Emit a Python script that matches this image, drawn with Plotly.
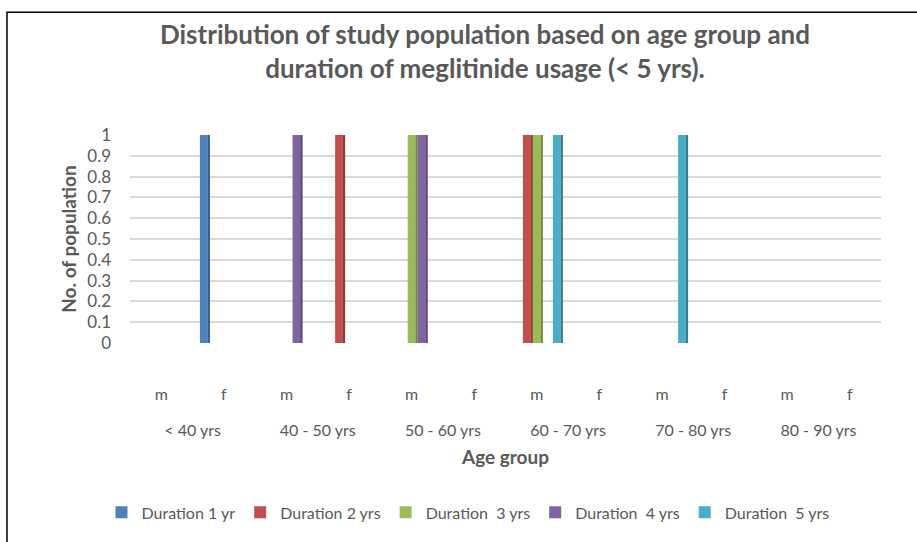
import plotly.graph_objects as go

# ---------------- data ----------------
age_groups = ["< 40 yrs", "40 - 50 yrs", "50 - 60 yrs", "60 - 70 yrs", "70 - 80 yrs", "80 - 90 yrs"]
sexes = ["m", "f"]
category_labels = [s for _ in age_groups for s in sexes]  # 12 categories

series_names = ["Duration 1 yr", "Duration 2 yrs", "Duration\u00a0 3 yrs",
                "Duration\u00a0 4 yrs", "Duration\u00a0 5 yrs"]
dur_1 = [0, 1, 0, 0, 0, 0, 0, 0, 0, 0, 0, 0]
dur_2 = [0, 0, 0, 1, 0, 0, 1, 0, 0, 0, 0, 0]
dur_3 = [0, 0, 0, 0, 1, 0, 1, 0, 0, 0, 0, 0]
dur_4 = [0, 0, 1, 0, 1, 0, 0, 0, 0, 0, 0, 0]
dur_5 = [0, 0, 0, 0, 0, 0, 1, 0, 1, 0, 0, 0]
series_values = [dur_1, dur_2, dur_3, dur_4, dur_5]

y_ticks = [0, 0.1, 0.2, 0.3, 0.4, 0.5, 0.6, 0.7, 0.8, 0.9, 1]

# ---------------- style ----------------
face_colors = ["#4F81BD", "#C0504D", "#9BBB59", "#8064A2", "#4BACC6"]
side_colors = ["#385D8A", "#8C3836", "#71893F", "#5C4776", "#357D91"]
FONT = "Lato, Carlito, 'Open Sans', sans-serif"
TXT = "#595959"

W, H = 917, 542
ML, MR, MT, MB = 130, 36, 135, 197
plot_w = W - ML - MR
plot_h = H - MT - MB

x_pos = list(range(len(category_labels)))
slot = 0.16          # spacing of series within a category (category units)
face_w = 0.125
side_w = 0.04

fig = go.Figure()
for i, (name, vals) in enumerate(zip(series_names, series_values)):
    off = (i - 2) * slot - face_w / 2
    # darker side face (3D look)
    fig.add_trace(go.Bar(
        x=x_pos, y=vals, offset=off + face_w - 0.005, width=side_w,
        marker=dict(color=side_colors[i], line=dict(width=0)),
        showlegend=False, hoverinfo="skip"))
    fig.add_trace(go.Bar(
        x=x_pos, y=vals, name=name, offset=off, width=face_w,
        marker=dict(color=face_colors[i], line=dict(width=0))))

# helper trace for the age-group axis
group_centers = [2 * k + 0.5 for k in range(len(age_groups))]
fig.add_trace(go.Scatter(x=group_centers, y=[None] * len(group_centers),
                         xaxis="x2", showlegend=False, hoverinfo="skip",
                         mode="markers"))

def px_to_paper_x(px):
    return (px - ML) / plot_w

def px_to_paper_y(py):
    return (H - MB - py) / plot_h

fig.update_layout(
    width=W, height=H,
    margin=dict(l=ML, r=MR, t=MT, b=MB),
    paper_bgcolor="white", plot_bgcolor="white",
    barmode="overlay",
    font=dict(family=FONT, color=TXT, size=15),
    title=dict(
        text="Distribution of study population based on age group and<br>duration of meglitinide usage (< 5 yrs).",
        x=485 / W, xanchor="center", xref="container",
        y=1 - 44 / H, yanchor="middle", yref="container",
        font=dict(family=FONT, size=26, color=TXT, weight="bold")),
    xaxis=dict(
        range=[-0.5, len(category_labels) - 0.5],
        tickmode="array", tickvals=x_pos, ticktext=category_labels,
        showgrid=False, zeroline=False, showline=False, ticks="",
        ticklabelstandoff=40,
        tickfont=dict(size=16, color=TXT, family=FONT)),
    xaxis2=dict(
        overlaying="x", side="bottom", anchor="y",
        range=[-0.5, len(category_labels) - 0.5],
        tickmode="array", tickvals=group_centers, ticktext=age_groups,
        showgrid=False, zeroline=False, showline=False, ticks="",
        ticklabelstandoff=76,
        tickfont=dict(size=16, color=TXT, family=FONT),
        title=dict(text="Age group", standoff=12,
                   font=dict(size=19, color=TXT, family=FONT, weight="bold"))),
    yaxis=dict(
        range=[0, 1.0], tickmode="array", tickvals=y_ticks,
        ticktext=[f"{v:g}" for v in y_ticks],
        showgrid=True, gridcolor="#D9D9D9", gridwidth=1.5,
        zeroline=False, showline=False, ticks="",
        ticklabelstandoff=18,
        tickfont=dict(size=17, color=TXT, family=FONT),
        title=dict(text="No. of population", standoff=5,
                   font=dict(size=19, color=TXT, family=FONT, weight="bold"))),
    legend=dict(
        orientation="h", x=px_to_paper_x(468), xanchor="center",
        y=px_to_paper_y(516), yanchor="middle",
        font=dict(size=16, color=TXT, family=FONT),
        itemwidth=30, traceorder="normal"),
    showlegend=True,
)

# chart border (outer frame)
fig.add_shape(type="rect", xref="paper", yref="paper",
              x0=px_to_paper_x(7), x1=px_to_paper_x(W + 20),
              y0=px_to_paper_y(H + 20), y1=px_to_paper_y(11),
              line=dict(color="black", width=1.5), fillcolor="rgba(0,0,0,0)",
              layer="above")

fig.write_html("out.html", config={"displayModeBar": False})

# remove the default page margin so the figure sits at the window origin
with open("out.html", "r", encoding="utf-8") as fh:
    html = fh.read()
html = html.replace("<body>", '<body style="margin:0;padding:0;overflow:hidden;">', 1)
with open("out.html", "w", encoding="utf-8") as fh:
    fh.write(html)
